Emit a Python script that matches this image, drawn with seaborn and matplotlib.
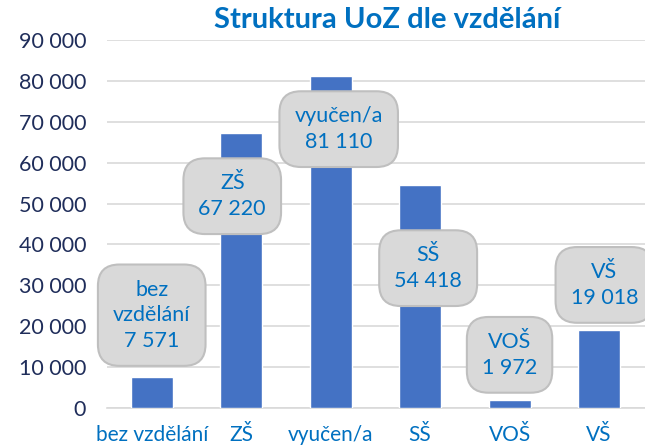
import matplotlib
matplotlib.use("Agg")
import matplotlib.pyplot as plt
import seaborn as sns
import pandas as pd

categories = ["bez vzdělání", "ZŠ", "vyučen/a", "SŠ", "VOŠ", "VŠ"]
values = [7571, 67220, 81110, 54418, 1972, 19018]
label_names = ["bez\nvzdělání", "ZŠ", "vyučen/a", "SŠ", "VOŠ", "VŠ"]
yticks = [0, 10000, 20000, 30000, 40000, 50000, 60000, 70000, 80000, 90000]

# callout positions (x offset in category units, y in data units)
label_dx = [0.0, -0.1, 0.09, 0.09, 0.0, 0.06]
label_y = [22700, 51800, 68200, 34200, 13000, 30100]

sns.set_theme(style="white")
FONT = ["Lato", "DejaVu Sans"]
plt.rcParams["font.family"] = FONT

df = pd.DataFrame({"cat": categories, "val": values})

fig = plt.figure(figsize=(6.45, 4.46), dpi=100)
ax = fig.add_axes([107 / 645, 1 - 408 / 446, 1 - 107 / 645 + 0.005, (408 - 40) / 446])
sns.barplot(data=df, x="cat", y="val", color="#4472C4", width=0.47, ax=ax,
            saturation=1, zorder=3)
ax.set_ylim(0, 90000)
ax.set_xlim(-0.5, 5.55)
ax.set_yticks(yticks)
ax.set_yticklabels([f"{v:,}".replace(",", " ") for v in yticks])
ax.yaxis.grid(True, color="#D9D9D9", linewidth=1.2, zorder=0)
for s in ["top", "right", "left"]:
    ax.spines[s].set_visible(False)
ax.spines["bottom"].set_color("#D9D9D9")
ax.spines["bottom"].set_linewidth(1.2)
ax.tick_params(axis="y", length=0, pad=15, labelsize=15.5, labelcolor="#1F2D5A")
ax.tick_params(axis="x", length=0, pad=12, labelsize=15, labelcolor="#0070C0")
ax.set_xlabel("")
ax.set_ylabel("")

for i, (name, v) in enumerate(zip(label_names, values)):
    txt = f"{name}\n{v:,}".replace(",", " ")
    ax.text(i + label_dx[i], label_y[i], txt, ha="center", va="center",
            fontsize=15.5, color="#0070C0", linespacing=1.35, zorder=5,
            bbox=dict(boxstyle="round,pad=0.7,rounding_size=1.0",
                      fc="#D9D9D9", ec="#BFBFBF", lw=1.5))

fig.text(0.6, 0.985, "Struktura UoZ dle vzdělání", ha="center", va="top",
         fontsize=21, fontweight="bold", color="#0070C0")

fig.savefig("out.png", dpi=100)
